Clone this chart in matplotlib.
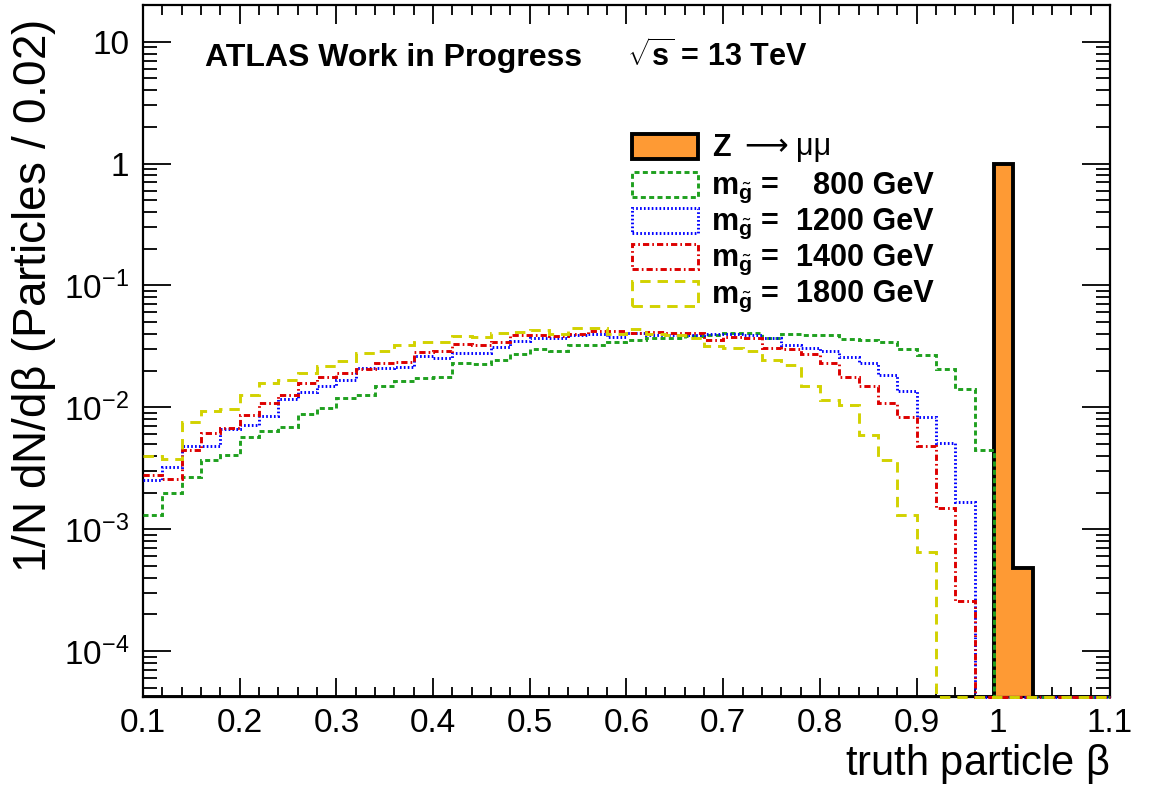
import numpy as np
import matplotlib
matplotlib.use("Agg")
import matplotlib.pyplot as plt
from matplotlib.patches import Rectangle
from matplotlib.transforms import ScaledTranslation
from matplotlib.ticker import MultipleLocator, FixedLocator, FixedFormatter, LogLocator, NullFormatter

# ---------------- data ----------------
bin_edges = np.linspace(0.1, 1.1, 51)   # 0.02 wide bins

z_mumu = [0]*44 + [1.0, 4.8e-4] + [0]*4

m800 = [1.32e-3, 2.0e-3, 2.66e-3, 3.67e-3, 4.1e-3, 5.7e-3, 6.4e-3, 6.9e-3, 8.8e-3, 9.9e-3,
        0.0119, 0.0126, 0.0150, 0.0164, 0.0173, 0.0177, 0.0229, 0.0225, 0.0245, 0.0275,
        0.0301, 0.0292, 0.0327, 0.0327, 0.0346, 0.0357, 0.0369, 0.0369, 0.0385, 0.0394,
        0.0410, 0.0410, 0.0369, 0.0398, 0.0392, 0.0392, 0.0366, 0.0356, 0.0346, 0.0299,
        0.0267, 0.0205, 0.0141, 0.00444, 0, 0, 0, 0, 0, 0]

m1200 = [2.53e-3, 3.26e-3, 4.8e-3, 4.8e-3, 6.6e-3, 7.2e-3, 8.5e-3, 0.0118, 0.0134, 0.0150,
         0.0167, 0.0210, 0.0212, 0.0214, 0.0264, 0.0252, 0.0281, 0.0281, 0.0315, 0.0348,
         0.0369, 0.0369, 0.0394, 0.0400, 0.0378, 0.0410, 0.0394, 0.0394, 0.0394, 0.0403,
         0.0400, 0.0394, 0.0373, 0.0324, 0.0305, 0.0290, 0.0259, 0.0230, 0.0183, 0.0135,
         0.0083, 0.00506, 0.00168, 0, 0, 0, 0, 0, 0, 0]

m1400 = [2.8e-3, 2.6e-3, 4.5e-3, 6.1e-3, 6.8e-3, 8.6e-3, 0.0108, 0.0126, 0.0157, 0.0177,
         0.0193, 0.0205, 0.0230, 0.0236, 0.0284, 0.0290, 0.0333, 0.0324, 0.0346, 0.0394,
         0.0394, 0.0385, 0.0400, 0.0423, 0.0423, 0.0410, 0.0416, 0.0410, 0.0410, 0.0356,
         0.0380, 0.0369, 0.0304, 0.0299, 0.0276, 0.0230, 0.0179, 0.0150, 0.0108, 0.0084,
         0.0048, 0.0015, 0.00026, 0, 0, 0, 0, 0, 0, 0]

m1800 = [4.0e-3, 3.8e-3, 7.6e-3, 9.3e-3, 9.6e-3, 0.0126, 0.0159, 0.0168, 0.0190, 0.0217,
         0.0239, 0.0277, 0.0288, 0.0325, 0.0346, 0.0346, 0.0385, 0.0378, 0.0407, 0.0414,
         0.0430, 0.0402, 0.0451, 0.0451, 0.0402, 0.0437, 0.0400, 0.0394, 0.0369, 0.0318,
         0.0309, 0.0290, 0.0244, 0.0222, 0.0149, 0.0114, 0.0105, 0.0059, 0.00367, 0.00132,
         0.00065, 0, 0, 0, 0, 0, 0, 0, 0, 0]

series_labels = ["800", "1200", "1400", "1800"]
x_ticks = [0.1, 0.2, 0.3, 0.4, 0.5, 0.6, 0.7, 0.8, 0.9, 1.0, 1.1]
x_ticklabels = ["0.1", "0.2", "0.3", "0.4", "0.5", "0.6", "0.7", "0.8", "0.9", "1", "1.1"]
y_ticks = [1e-4, 1e-3, 1e-2, 1e-1, 1, 10]
y_ticklabels = [r"$10^{-4}$", r"$10^{-3}$", r"$10^{-2}$", r"$10^{-1}$", "1", "10"]

# ---------------- style ----------------
plt.rcParams["font.family"] = ["Liberation Sans", "DejaVu Sans"]
plt.rcParams["mathtext.fontset"] = "custom"
plt.rcParams["mathtext.rm"] = "Liberation Sans"
plt.rcParams["mathtext.it"] = "Liberation Sans:italic"
plt.rcParams["mathtext.bf"] = "Liberation Sans:bold"
plt.rcParams["lines.scale_dashes"] = False

W, H = 1149, 787
fig = plt.figure(figsize=(W/100, H/100), dpi=100)
ax_l, ax_r, ax_t, ax_b = 143, 1110, 5, 697
ax = fig.add_axes([ax_l/W, 1-ax_b/H, (ax_r-ax_l)/W, (ax_b-ax_t)/H])

ymin, ymax = 4.2e-5, 20
ax.set_yscale("log")
ax.set_xlim(0.1, 1.1)
ax.set_ylim(ymin, ymax)

orange = "#fe9a34"
colors = ["#1fa01f", "#0000ff", "#dd0000", "#d2d200"]
styles = [(0, (3.6, 2.4)), (0, (1.2, 1.6)), (0, (4.5, 2.2, 1.2, 2.2)), (0, (7.5, 5.0))]
lw = 2.1

z = np.array(z_mumu, dtype=float)
ax.stairs(np.clip(z, ymin, None), bin_edges, baseline=ymin, fill=True,
          facecolor=orange, edgecolor="black", linewidth=2.8, zorder=2)

for vals, c, ls in zip([m800, m1200, m1400, m1800], colors, styles):
    v = np.clip(np.array(vals, dtype=float), ymin, None)
    ax.stairs(v, bin_edges, baseline=None, color=c, linestyle=ls, linewidth=lw,
              zorder=3, clip_on=False)

# ticks
ax.xaxis.set_major_locator(FixedLocator(x_ticks))
ax.xaxis.set_major_formatter(FixedFormatter(x_ticklabels))
ax.xaxis.set_minor_locator(MultipleLocator(0.02))
ax.yaxis.set_major_locator(FixedLocator(y_ticks))
ax.yaxis.set_major_formatter(FixedFormatter(y_ticklabels))
ax.yaxis.set_minor_locator(LogLocator(base=10, subs=np.arange(2, 10), numticks=20))
ax.yaxis.set_minor_formatter(NullFormatter())

ax.tick_params(which="both", direction="in", top=True, right=True, width=1.3,
               labelsize=24, colors="black")
ax.tick_params(axis="x", which="major", length=14, pad=8)
ax.tick_params(axis="x", which="minor", length=7)
ax.tick_params(axis="y", which="major", length=20, pad=10)
ax.tick_params(axis="y", which="minor", length=10)
for s in ax.spines.values():
    s.set_linewidth(1.6)

fig.canvas.draw()
for lbl in ax.get_xticklabels():
    if lbl.get_text() == "1":
        lbl.set_transform(lbl.get_transform() + ScaledTranslation(-0.16, 0, fig.dpi_scale_trans))

ax.set_xlabel(r"truth particle $\mathrm{\beta}$", fontsize=30, loc="right", labelpad=2)


def fx(px):
    return px / W


def fy(py):
    return 1 - py / H


fig.text(fx(34), fy(20), r"1/N dN/d$\mathrm{\beta}$ (Particles / 0.02)", fontsize=33,
         rotation=90, ha="center", va="top")

fig.text(fx(205), fy(66), "ATLAS Work in Progress", fontsize=23, fontweight="bold", va="baseline")
fig.text(fx(627), fy(66), r"$\sqrt{\mathbf{s}}$ = 13 TeV", fontsize=22, fontweight="bold", va="baseline")

# legend
row_c = [146.5, 184.5, 220.5, 256.5, 293.5]
bx0, bw, bh = 632, 66, 25
fs_leg = 22
fig.add_artist(Rectangle((fx(bx0), fy(row_c[0] + bh/2)), bw/W, bh/H, transform=fig.transFigure,
                         facecolor=orange, edgecolor="black", linewidth=2.8))
fig.text(fx(712), fy(row_c[0] + 9), "Z", fontsize=fs_leg, fontweight="bold", va="baseline")
fig.text(fx(744), fy(row_c[0] + 9), "\u27f6", fontsize=fs_leg, va="baseline",
         family=["DejaVu Sans"])
fig.text(fx(796), fy(row_c[0] + 9), "\u03bc\u03bc", fontsize=fs_leg, va="baseline")
for i, (lab, c, ls) in enumerate(zip(series_labels, colors, styles)):
    yc = row_c[i + 1]
    fig.add_artist(Rectangle((fx(bx0), fy(yc + bh/2)), bw/W, bh/H, transform=fig.transFigure,
                             fill=False, edgecolor=c, linestyle=ls, linewidth=lw))
    fig.text(fx(711), fy(yc + 9), r"$\mathbf{m}_{\tilde{\mathbf{g}}}$ =", fontsize=fs_leg,
             fontweight="bold", va="baseline")
    fig.text(fx(934), fy(yc + 9), lab + " GeV", fontsize=fs_leg, fontweight="bold",
             va="baseline", ha="right")

fig.savefig("out.png", dpi=100)
